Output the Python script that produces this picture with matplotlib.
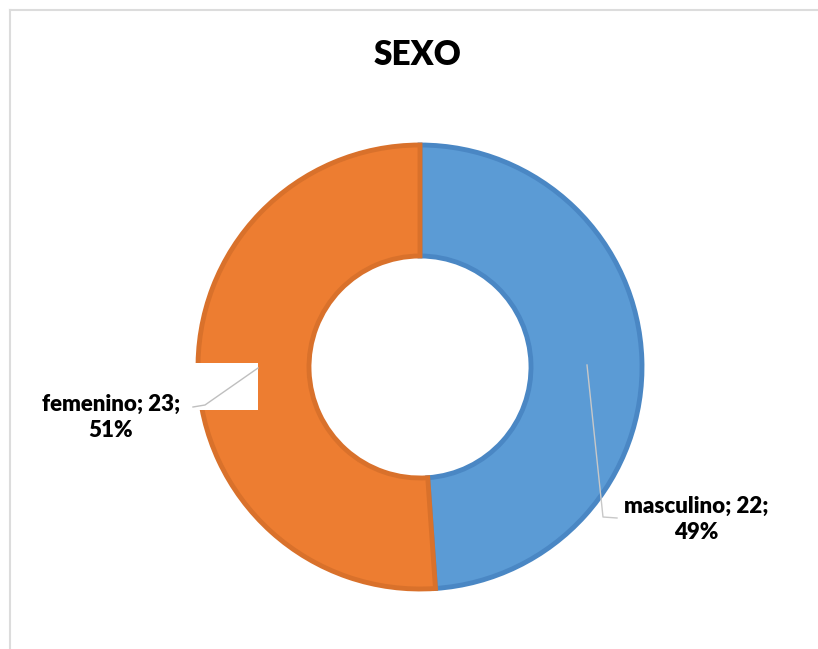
import numpy as np
import matplotlib.pyplot as plt
from matplotlib.patches import Rectangle

# datos
categorias = ["masculino", "femenino"]
valores = [22, 23]
colores = ["#5B9BD5", "#ED7D31"]
bordes = ["#4A87C4", "#D9712B"]

W, H = 818, 649
fig = plt.figure(figsize=(W / 100, H / 100), dpi=100)
ax = fig.add_axes([0, 0, 1, 1])

# marco gris claro
ax.plot([10, 10], [0, H - 10], color="#DCDCDC", lw=1.5)
ax.plot([10, W], [H - 10, H - 10], color="#DCDCDC", lw=1.5)

cx, cy, r = 420, H - 367, 222
wedges, _ = ax.pie(valores, colors=colores, startangle=90, counterclock=False,
                   center=(cx, cy), radius=r, frame=True,
                   wedgeprops=dict(width=r * 0.5, edgecolor="none"))
for w, b in zip(wedges, bordes):
    w.set_edgecolor(b)
    w.set_linewidth(3.5)
ax.set_xlim(0, W)
ax.set_ylim(0, H)
ax.set_aspect("equal")
ax.axis("off")

fuente = ["Lato", "DejaVu Sans"]
total = sum(valores)
pct = [round(v / total * 100) for v in valores]

# líneas guía
ax.plot([587, 603, 617], [H - 365, H - 517, H - 518], color="#C8C8C8", lw=1)
ax.add_patch(Rectangle((188, H - 410), 70, 47, facecolor="white", edgecolor="none", zorder=3))
ax.plot([258, 205, 193], [H - 368, H - 405, H - 407], color="#BFBFBF", lw=1, zorder=4)

ax.text(696, H - 519, f"{categorias[0]}; {valores[0]};\n{pct[0]}%", ha="center", va="center",
        fontsize=16, fontweight="heavy", family=fuente, linespacing=1.3)
ax.text(111, H - 417, f"{categorias[1]}; {valores[1]};\n{pct[1]}%", ha="center", va="center",
        fontsize=16, fontweight="heavy", family=fuente, linespacing=1.3)

ax.text(418, H - 55, "SEXO", ha="center", va="center", fontsize=24, fontweight="heavy", family=fuente)

fig.savefig("out.png", dpi=100)
